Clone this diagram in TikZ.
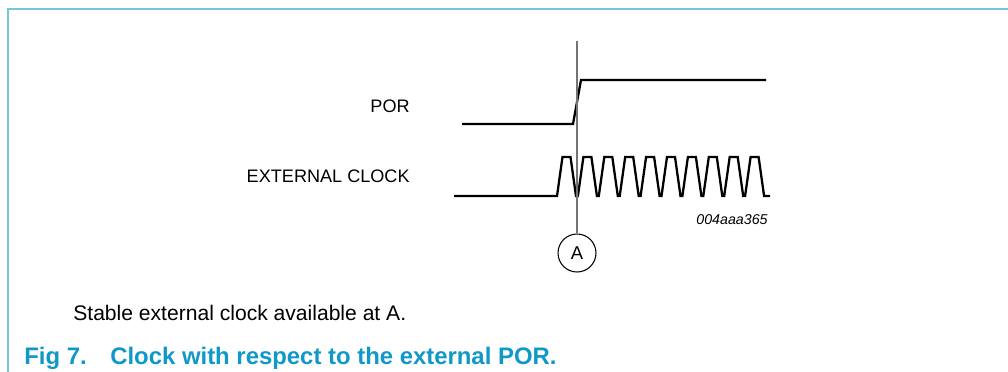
\documentclass[tikz,border=0pt]{standalone}
\usepackage{fontspec}
\setmainfont{Liberation Sans}
\usetikzlibrary{arrows.meta, calc, positioning}

\definecolor{frameBlue}{RGB}{118,198,218}
\definecolor{capBlue}{RGB}{16,152,200}

\begin{document}
\begin{tikzpicture}[x=0.02cm, y=-0.02cm, >=Stealth]

% --- Styles ---
\tikzset{
    frameLine/.style={draw=frameBlue, line width=1.1pt},
    wave/.style={black, line width=1.3pt, line join=miter},
    markLine/.style={draw=black!55, line width=0.6pt},
    markCircle/.style={circle, draw=black, line width=0.6pt, minimum size=0.76cm, inner sep=0pt, font=\fontsize{10.5}{12}\selectfont},
    sigLabel/.style={anchor=base east, inner sep=0pt, font=\fontsize{10.3}{12}\selectfont},
    figCode/.style={anchor=base east, inner sep=0pt, font=\fontsize{8.1}{10}\selectfont\itshape},
    noteText/.style={anchor=base west, inner sep=0pt, font=\fontsize{12}{14}\selectfont},
    capText/.style={anchor=base west, inner sep=0pt, text=capBlue, font=\fontsize{13.6}{16}\selectfont\bfseries},
}

\useasboundingbox (0,0) rectangle (1008,372);

% --- Frame (top and left edges only) ---
\draw[frameLine] (8,372) -- (8,9) -- (1008,9);

% --- Signal names ---
\node[sigLabel] (lblPOR) at (410,112.5) {POR};
\node[sigLabel] (lblClk) at (410,182.5) {EXTERNAL CLOCK};

% --- POR waveform ---
\draw[wave] (462,124) -- (573,124) -- (581,80) -- (766,80);

% --- External clock: ten pulses ---
\draw[wave] (454,196) -- (557,196)
    \foreach \i in {1,...,10} { -- ++(5.5,-39) -- ++(8,0) -- ++(5.5,39) -- ++(1.9,0) }
    -- (770,196);

\node[figCode] (codeId) at (768,224) {004aaa365};

% --- Marker A ---
\node[markCircle] (markA) at (577,253) {A};
\coordinate (markTop) at (577,41);
\draw[markLine] (markTop) -- (markA);

% --- Notes and caption ---
\node[noteText] (noteA) at (73,320.5) {Stable external clock available at A.};
\node[capText] (figNum) at (24,364) {Fig 7.};
\node[capText] (figTitle) at (110,364) {Clock with respect to the external POR.};

\end{tikzpicture}
\end{document}
